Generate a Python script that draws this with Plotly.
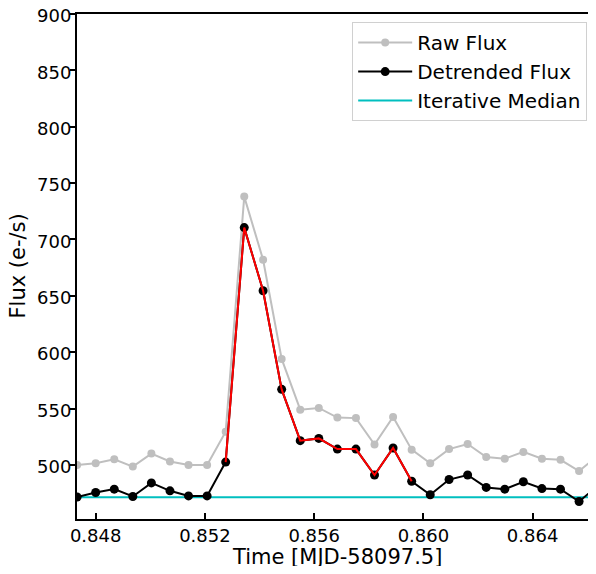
import plotly.graph_objects as go

# Time [MJD-58097.5]
time = [0.84732, 0.84800, 0.84868, 0.84936, 0.85004, 0.85072, 0.85140, 0.85208,
        0.85276, 0.85344, 0.85413, 0.85481, 0.85549, 0.85617, 0.85685, 0.85753,
        0.85821, 0.85889, 0.85957, 0.86025, 0.86094, 0.86162, 0.86230, 0.86298,
        0.86366, 0.86434, 0.86502, 0.86570, 0.86638]

raw_flux = [500, 501.5, 505, 498.5, 510, 503, 500, 500,
            529.5, 738, 682, 594, 549, 550.5, 542, 541.5,
            518, 542.5, 513.5, 501.5, 514, 518.5, 507, 505.5,
            511.5, 505.5, 504.5, 494.5, 508]

detrended_flux = [471.5, 475.5, 478.5, 472, 484, 477, 472.5, 472.5,
                  502.5, 710.5, 654.5, 567, 521.5, 523.5, 514, 514,
                  491, 515, 485.5, 473.5, 487, 491, 480, 478.5,
                  485, 479, 478.5, 467.5, 481.5]

flare_start, flare_end = 8, 18  # indices of detrended points highlighted in red
iterative_median = 471.2

x_range = [0.847316, 0.86632]
y_range = [452, 900]
y_ticks = [500, 550, 600, 650, 700, 750, 800, 850, 900]
x_ticks = [0.848, 0.852, 0.856, 0.860, 0.864]
x_title = "Time [MJD-58097.5]"
y_title = "Flux (e-/s)"

FONT = "DejaVu Sans"

fig = go.Figure()
fig.add_trace(go.Scatter(
    x=time, y=raw_flux, mode="lines+markers", name="Raw Flux",
    line=dict(color="#bfbfbf", width=2), marker=dict(color="#bfbfbf", size=8),
))
fig.add_trace(go.Scatter(
    x=[time[0], time[-1]], y=[iterative_median, iterative_median], mode="lines",
    name="Iterative Median", line=dict(color="#00bfbf", width=2), showlegend=False,
))
fig.add_trace(go.Scatter(
    x=time, y=detrended_flux, mode="lines+markers", name="Detrended Flux",
    line=dict(color="black", width=2), marker=dict(color="black", size=9),
))
fig.add_trace(go.Scatter(
    x=time[flare_start:flare_end + 1], y=detrended_flux[flare_start:flare_end + 1],
    mode="lines", line=dict(color="#ff0000", width=2), showlegend=False,
))
fig.add_trace(go.Scatter(
    x=[None], y=[None], mode="lines", name="Iterative Median",
    line=dict(color="#00bfbf", width=2),
))
fig.add_trace(go.Scatter(x=[None], y=[None], yaxis="y2", showlegend=False))

fig.update_layout(
    width=588, height=558,
    margin=dict(l=69, r=0, t=6, b=47),
    plot_bgcolor="white", paper_bgcolor="white",
    font=dict(family=FONT, size=18, color="black"),
    xaxis=dict(
        range=x_range, tickvals=x_ticks, ticktext=[f"{v:.3f}" for v in x_ticks],
        ticks="inside", ticklen=6, tickwidth=2, tickcolor="black",
        showline=True, linecolor="black", linewidth=2, mirror=True,
        showgrid=False, zeroline=False, automargin=False,
        ticklabelstandoff=-1, ticklabeloverflow="allow",
        tickfont=dict(size=18),
    ),
    yaxis=dict(
        range=y_range, tickvals=y_ticks,
        ticks="outside", ticklen=5, tickwidth=2, tickcolor="black",
        showline=True, linecolor="black", linewidth=2, mirror=False,
        showgrid=False, zeroline=False, automargin=False,
        ticklabelstandoff=-5, ticklabelshift=2, ticklabeloverflow="allow",
        tickfont=dict(size=18),
    ),
    yaxis2=dict(
        range=y_range, tickvals=y_ticks, overlaying="y", side="right",
        ticks="inside", ticklen=6, tickwidth=2, tickcolor="black",
        showticklabels=False, showline=False, showgrid=False, zeroline=False,
        automargin=False,
    ),
    legend=dict(
        x=0.983, y=0.984, xanchor="right", yanchor="top",
        bgcolor="white", bordercolor="#d0d0d0", borderwidth=1,
        font=dict(size=20), tracegroupgap=0, itemwidth=54,
    ),
    annotations=[
        dict(text=x_title, xref="paper", yref="paper", x=0.5, y=-0.0752,
             xanchor="center", yanchor="middle", showarrow=False,
             font=dict(size=21)),
        dict(text=y_title, xref="paper", yref="paper", x=-0.1156, y=0.5,
             xanchor="center", yanchor="middle", showarrow=False, textangle=-90,
             font=dict(size=21)),
    ],
    showlegend=True,
)

fig.write_html("out.html")
